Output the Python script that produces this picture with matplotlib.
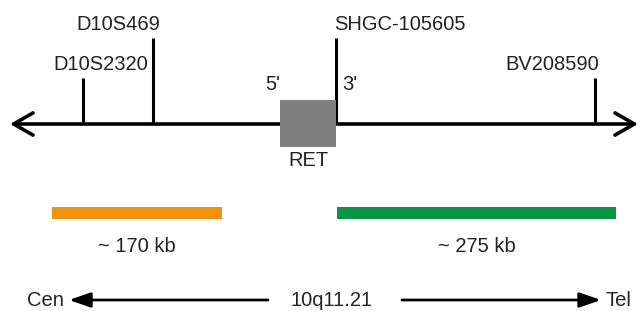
import matplotlib.pyplot as plt
from matplotlib.patches import Rectangle

plt.rcParams['font.family'] = ['Liberation Sans', 'DejaVu Sans']

# markers along the chromosome line (pixel-ish positions)
marker_names = ['D10S2320', 'D10S469', 'SHGC-105605', 'BV208590']
marker_x = [83, 153, 336, 595]
marker_top = [78, 38, 38, 78]
label_x = [101, 118, 400, 552]
label_y = [64, 24, 24, 64]

# RET gene box
ret_x = [280, 336]
ret_y = [100, 147]

# deletion spans
span_start = [52, 337]
span_end = [222, 616]
span_labels = ['~ 170 kb', '~ 275 kb']
span_colors = ['#f0920f', '#0a9446']

line_y = 124
txt = '#222222'

fig = plt.figure(figsize=(6.4, 3.11), dpi=100)
ax = fig.add_axes([0, 0, 1, 1])
ax.set_xlim(0, 640)
ax.set_ylim(311, 0)
ax.axis('off')

# main line with open arrowheads
ax.annotate('', xy=(638, line_y), xytext=(10, line_y),
            arrowprops=dict(arrowstyle='<->,head_length=1.4,head_width=0.8',
                            lw=2.6, color='black', shrinkA=0, shrinkB=0))

for name, x, top, lx, ly in zip(marker_names, marker_x, marker_top, label_x, label_y):
    ax.plot([x, x], [line_y, top], color='black', lw=2.2, solid_capstyle='butt')
    ax.text(lx, ly, name, ha='center', va='center', fontsize=14.5, color=txt)

ax.add_patch(Rectangle((ret_x[0], ret_y[0]), ret_x[1] - ret_x[0], ret_y[1] - ret_y[0],
                       facecolor='#7f7f7f', edgecolor='none', zorder=3))
ax.text(273, 84, "5'", ha='center', va='center', fontsize=14.5, color=txt)
ax.text(350, 84, "3'", ha='center', va='center', fontsize=14.5, color=txt)
ax.text(308, 161, 'RET', ha='center', va='center', fontsize=14.5, color=txt)

for s, e, lab, c in zip(span_start, span_end, span_labels, span_colors):
    ax.barh(213, e - s, left=s, height=12, color=c)
    ax.text((s + e) / 2, 246, lab, ha='center', va='center', fontsize=14.5, color=txt)

# orientation arrows
ax.annotate('', xy=(69, 300), xytext=(268, 300),
            arrowprops=dict(arrowstyle='-|>,head_length=1.3,head_width=0.45',
                            lw=2, color='black', shrinkA=0, shrinkB=0))
ax.annotate('', xy=(601, 300), xytext=(402, 300),
            arrowprops=dict(arrowstyle='-|>,head_length=1.3,head_width=0.45',
                            lw=2, color='black', shrinkA=0, shrinkB=0))
ax.text(45, 300, 'Cen', ha='center', va='center', fontsize=14.5, color=txt)
ax.text(332, 300, '10q11.21', ha='center', va='center', fontsize=14.5, color=txt)
ax.text(618, 300, 'Tel', ha='center', va='center', fontsize=14.5, color=txt)

fig.savefig('out.png', dpi=100)
